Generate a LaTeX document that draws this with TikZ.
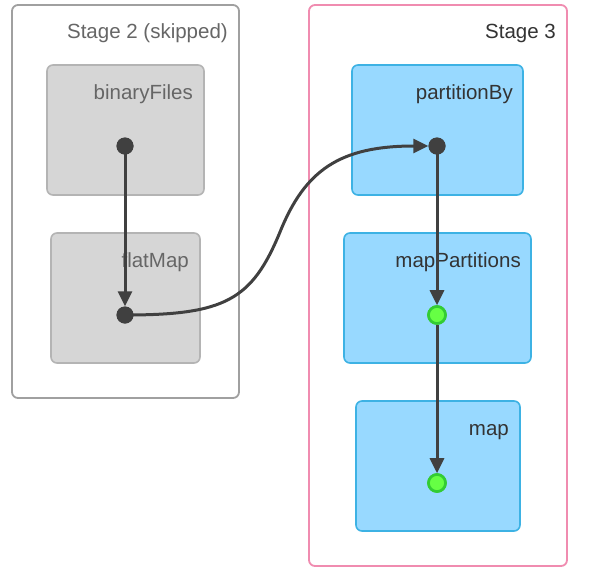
\documentclass[tikz,border=0pt]{standalone}
\usepackage{fontspec}
\setmainfont{Liberation Sans}
\usetikzlibrary{arrows.meta}
\definecolor{stgray}{HTML}{A0A0A0}
\definecolor{stpink}{HTML}{F08CB0}
\definecolor{boxgray}{HTML}{D6D6D6}
\definecolor{boxgrayb}{HTML}{B4B4B4}
\definecolor{boxblue}{HTML}{98D9FF}
\definecolor{boxblueb}{HTML}{3DB2E4}
\definecolor{edge}{HTML}{404040}
\definecolor{greenf}{HTML}{66FF44}
\definecolor{greenb}{HTML}{33CC33}
\definecolor{txtgray}{HTML}{666666}
\definecolor{txtdark}{HTML}{333333}
\tikzset{
  stagebox/.style={draw, line width=1.8pt, rounded corners=6pt, fill=white},
  skipbox/.style={draw=boxgrayb, fill=boxgray, line width=1.6pt, rounded corners=6pt},
  runbox/.style={draw=boxblueb, fill=boxblue, line width=1.6pt, rounded corners=6pt},
  lbl/.style={anchor=base east, inner sep=0pt, font=\fontsize{20.5}{24}\selectfont},
  dotd/.style={circle, fill=edge, minimum size=17pt, inner sep=0pt},
  dotg/.style={circle, fill=greenf, draw=greenb, line width=2.6pt, minimum size=17pt, inner sep=0pt},
  flow/.style={draw=edge, line width=3pt, -{Triangle[length=15pt,width=14pt]}}
}
\begin{document}
\begin{tikzpicture}[x=1pt,y=-1pt]
\useasboundingbox (0,0) rectangle (596,574);
% stages
\draw[stagebox, draw=stgray] (12,5) rectangle (239,398);
\node[lbl, text=txtgray] (s2) at (228,38) {Stage 2 (skipped)};
\draw[stagebox, draw=stpink] (309,5) rectangle (567,566);
\node[lbl, text=txtdark] (s3) at (556,38) {Stage 3};
% boxes
\draw[skipbox] (47,65) rectangle (204,195);
\node[lbl, text=txtgray] (bf) at (193,99) {binaryFiles};
\draw[skipbox] (51,233) rectangle (200,363);
\node[lbl, text=txtgray] (fm) at (189,267) {flatMap};
\draw[runbox] (352,65) rectangle (523,195);
\node[lbl, text=txtdark] (pb) at (513,99) {partitionBy};
\draw[runbox] (344,233) rectangle (531,363);
\node[lbl, text=txtdark] (mp) at (521,267) {mapPartitions};
\draw[runbox] (356,401) rectangle (520,531);
\node[lbl, text=txtdark] (mm) at (509,435) {map};
% dots
\node[dotd] (d1) at (125,146) {};
\node[dotd] (d2) at (125,315) {};
\node[dotd] (d3) at (437,146) {};
\node[dotg] (d4) at (437,315) {};
\node[dotg] (d5) at (437,483) {};
% edges
\draw[flow] (d1.center) -- (d2.north);
\draw[flow] (d2.center) .. controls (225,315) and (252,300) .. (280,232)
  .. controls (305,170) and (340,146) .. (d3.west);
\draw[flow] (d3.center) -- (d4.north);
\draw[flow] (d4.south) -- (d5.north);
% redraw dots on top
\node[dotd] at (d1) {};
\node[dotd] at (d2) {};
\node[dotd] at (d3) {};
\node[dotg] at (d4) {};
\node[dotg] at (d5) {};
\end{tikzpicture}
\end{document}
